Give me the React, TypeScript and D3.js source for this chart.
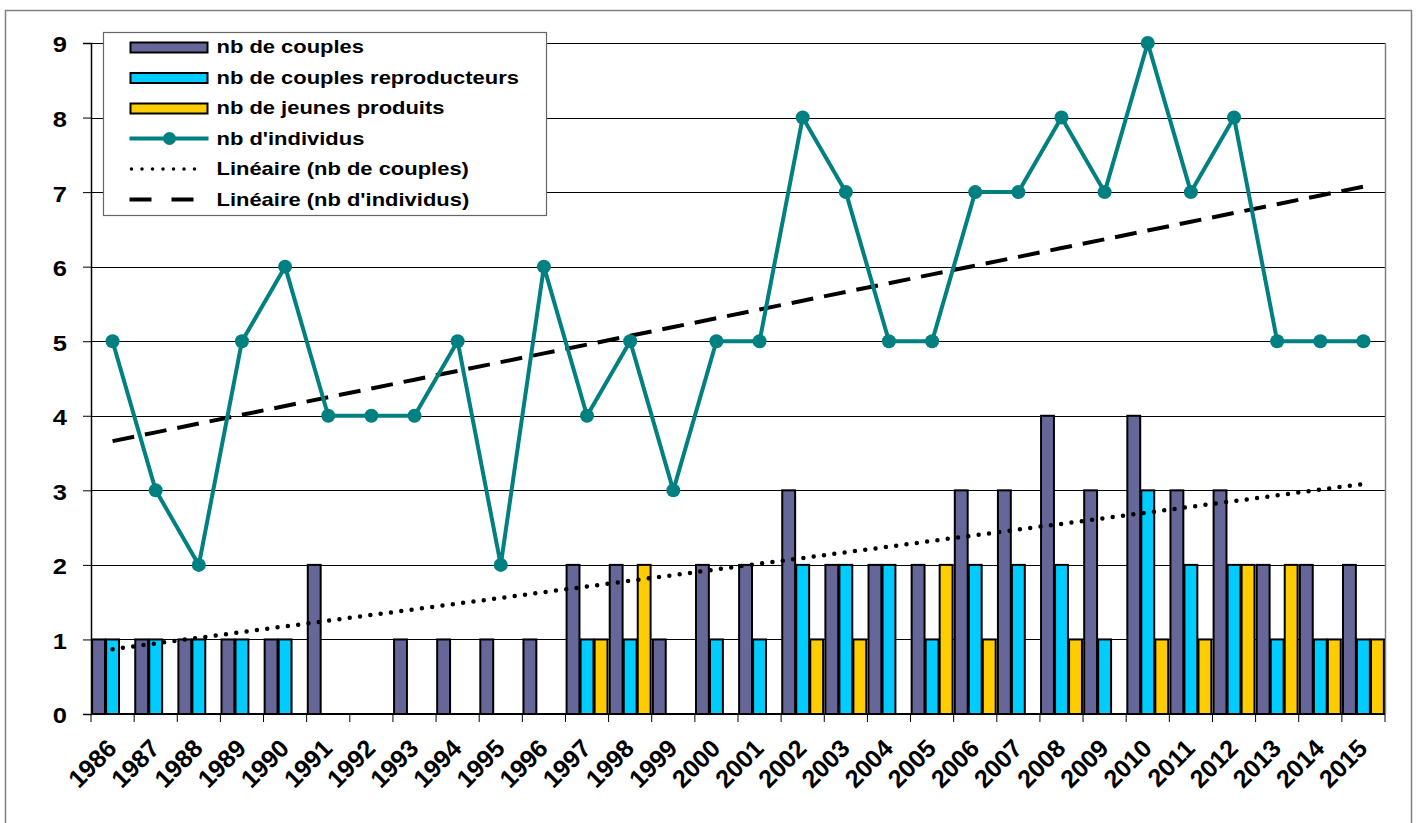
import React, { useEffect, useRef } from "react";
import * as d3 from "d3";

// data (null = empty cell in the sheet)
const years = [
  "1986", "1987", "1988", "1989", "1990", "1991", "1992", "1993", "1994", "1995",
  "1996", "1997", "1998", "1999", "2000", "2001", "2002", "2003", "2004", "2005",
  "2006", "2007", "2008", "2009", "2010", "2011", "2012", "2013", "2014", "2015",
];
const nbCouples: (number | null)[] = [1, 1, 1, 1, 1, 2, null, 1, 1, 1, 1, 2, 2, 1, 2, 2, 3, 2, 2, 2, 3, 3, 4, 3, 4, 3, 3, 2, 2, 2];
const nbReproducteurs = [1, 1, 1, 1, 1, 0, 0, 0, 0, 0, 0, 1, 1, 0, 1, 1, 2, 2, 2, 1, 2, 2, 2, 1, 3, 2, 2, 1, 1, 1];
const nbJeunes = [0, 0, 0, 0, 0, 0, 0, 0, 0, 0, 0, 1, 2, 0, 0, 0, 1, 1, 0, 2, 1, 0, 1, 0, 1, 1, 2, 2, 1, 1];
const nbIndividus = [5, 3, 2, 5, 6, 4, 4, 4, 5, 2, 6, 4, 5, 3, 5, 5, 8, 7, 5, 5, 7, 7, 8, 7, 9, 7, 8, 5, 5, 5];
const yTicks = [0, 1, 2, 3, 4, 5, 6, 7, 8, 9];

const barSeries = [
  { name: "nb de couples", values: nbCouples, color: "#666699" },
  { name: "nb de couples reproducteurs", values: nbReproducteurs, color: "#00CCFF" },
  { name: "nb de jeunes produits", values: nbJeunes, color: "#FFCC00" },
];

const FONT = "'Liberation Sans', Arial, sans-serif";
const STRETCH = 1.16; // the source picture is wider than tall, text looks stretched

// least squares fit, same as Excel "Linéaire" trendline (blank cells skipped)
function linearFit(vals: (number | null)[]) {
  const pts = vals.map((v, i) => [i + 1, v] as [number, number | null]).filter((p) => p[1] != null) as [number, number][];
  const mx = d3.mean(pts, (p) => p[0]) as number;
  const my = d3.mean(pts, (p) => p[1]) as number;
  let num = 0;
  let den = 0;
  pts.forEach(([x, v]) => {
    num += (x - mx) * (v - my);
    den += (x - mx) * (x - mx);
  });
  const slope = num / den;
  return vals.map((_, i) => my + slope * (i + 1 - mx));
}

export default function App() {
  const ref = useRef<SVGSVGElement | null>(null);

  useEffect(() => {
    const svg = d3.select(ref.current);
    svg.selectAll("*").remove();

    const left = 91;
    const right = 1385;
    const top = 43;
    const bottom = 714;

    // outer frame
    svg.append("rect")
      .attr("x", 5.5).attr("y", 10.5)
      .attr("width", 1406).attr("height", 830)
      .attr("fill", "#fff").attr("stroke", "#808080").attr("stroke-width", 1.5);

    const x = d3.scaleBand<string>().domain(years).range([left, right]).paddingInner(0).paddingOuter(0);
    const y = d3.scaleLinear().domain([0, 9]).range([bottom, top]);

    const g = svg.append("g");

    // gridlines
    g.append("g")
      .selectAll("line")
      .data(yTicks.filter((d) => d > 0))
      .enter()
      .append("line")
      .attr("x1", left).attr("x2", right)
      .attr("y1", (d) => Math.round(y(d)) + 0.5)
      .attr("y2", (d) => Math.round(y(d)) + 0.5)
      .attr("stroke", "#000").attr("stroke-width", 1);

    // right edge of plot area
    g.append("line")
      .attr("x1", right + 0.5).attr("x2", right + 0.5)
      .attr("y1", top).attr("y2", bottom)
      .attr("stroke", "#808080").attr("stroke-width", 1.5);

    // bars
    const inner = d3.scaleBand<number>()
      .domain(barSeries.map((_, i) => i))
      .range([0, x.bandwidth()])
      .paddingInner(0.08)
      .paddingOuter(0.08);

    barSeries.forEach((s, si) => {
      g.append("g")
        .selectAll("rect")
        .data(s.values.map((v, i) => ({ v: v ?? 0, year: years[i] })).filter((d) => d.v > 0))
        .enter()
        .append("rect")
        .attr("x", (d) => (x(d.year) as number) + (inner(si) as number))
        .attr("y", (d) => y(d.v))
        .attr("width", inner.bandwidth())
        .attr("height", (d) => y(0) - y(d.v))
        .attr("fill", s.color)
        .attr("stroke", "#000")
        .attr("stroke-width", 2);
    });

    // y axis
    const yAxis = d3.axisLeft(y).tickValues(yTicks).tickSize(8).tickFormat(() => "");
    g.append("g")
      .attr("transform", `translate(${left},0)`)
      .call(yAxis)
      .call((s) => s.select(".domain").attr("stroke", "#000").attr("stroke-width", 1.5))
      .call((s) => s.selectAll("line").attr("stroke", "#000"));
    g.append("g")
      .selectAll("text")
      .data(yTicks)
      .enter()
      .append("text")
      .attr("transform", (d) => `translate(67,${y(d) + 1.5}) scale(${STRETCH},1)`)
      .attr("text-anchor", "end")
      .attr("dy", "0.36em")
      .attr("font-family", FONT).attr("font-size", 22).attr("font-weight", "bold")
      .text((d) => d3.format("d")(d));

    // x axis
    const xAxisG = g.append("g").attr("transform", `translate(0,${bottom})`);
    xAxisG.append("line")
      .attr("x1", left).attr("x2", right)
      .attr("y1", 0).attr("y2", 0)
      .attr("stroke", "#000").attr("stroke-width", 2);
    xAxisG.selectAll(".tick")
      .data(d3.range(years.length + 1))
      .enter()
      .append("line")
      .attr("x1", (i) => left + i * x.step())
      .attr("x2", (i) => left + i * x.step())
      .attr("y1", 0).attr("y2", 8)
      .attr("stroke", "#000").attr("stroke-width", 1);
    xAxisG.selectAll("text")
      .data(years)
      .enter()
      .append("text")
      .attr("transform", (d) => `translate(${(x(d) as number) + x.bandwidth() / 2 + 5.5},${36}) rotate(-45)`)
      .attr("text-anchor", "end")
      .attr("font-family", FONT).attr("font-size", 25).attr("font-weight", "bold")
      .text((d) => d);

    const cx = (i: number) => (x(years[i]) as number) + x.bandwidth() / 2;

    // trendlines
    const trendLine = d3.line<number>().x((_, i) => cx(i)).y((d) => y(d));
    g.append("path")
      .attr("d", trendLine(linearFit(nbCouples)))
      .attr("fill", "none").attr("stroke", "#000").attr("stroke-width", 4.5)
      .attr("stroke-linecap", "round").attr("stroke-dasharray", "0 10.4");
    g.append("path")
      .attr("d", trendLine(linearFit(nbIndividus)))
      .attr("fill", "none").attr("stroke", "#000").attr("stroke-width", 4)
      .attr("stroke-dasharray", "22 11");

    // individuals line
    const indLine = d3.line<number>().x((_, i) => cx(i)).y((d) => y(d));
    g.append("path")
      .attr("d", indLine(nbIndividus))
      .attr("fill", "none").attr("stroke", "#008080").attr("stroke-width", 4)
      .attr("stroke-linejoin", "round");
    g.append("g")
      .selectAll("circle")
      .data(nbIndividus)
      .enter()
      .append("circle")
      .attr("cx", (_, i) => cx(i))
      .attr("cy", (d) => y(d))
      .attr("r", 7)
      .attr("fill", "#008080");

    // legend
    const lg = svg.append("g").attr("transform", "translate(103.5,32.5)");
    lg.append("rect").attr("width", 443).attr("height", 183).attr("fill", "#fff").attr("stroke", "#666").attr("stroke-width", 1.2);
    const legendItems = [
      { name: "nb de couples", kind: "bar", color: "#666699" },
      { name: "nb de couples reproducteurs", kind: "bar", color: "#00CCFF" },
      { name: "nb de jeunes produits", kind: "bar", color: "#FFCC00" },
      { name: "nb d'individus", kind: "line", color: "#008080" },
      { name: "Linéaire (nb de couples)", kind: "dot", color: "#000" },
      { name: "Linéaire (nb d'individus)", kind: "dash", color: "#000" },
    ];
    legendItems.forEach((it, i) => {
      const row = lg.append("g").attr("transform", `translate(0,${14.5 + i * 30.5})`);
      if (it.kind === "bar") {
        row.append("rect").attr("x", 27).attr("y", -4.5).attr("width", 77).attr("height", 10)
          .attr("fill", it.color).attr("stroke", "#000").attr("stroke-width", 2);
      } else if (it.kind === "line") {
        row.append("line").attr("x1", 26).attr("x2", 105).attr("y1", 0).attr("y2", 0)
          .attr("stroke", it.color).attr("stroke-width", 4);
        row.append("circle").attr("cx", 66).attr("cy", 0).attr("r", 6.5).attr("fill", it.color);
      } else if (it.kind === "dot") {
        row.append("line").attr("x1", 28).attr("x2", 92).attr("y1", 0).attr("y2", 0)
          .attr("stroke", "#000").attr("stroke-width", 3.5).attr("stroke-linecap", "round")
          .attr("stroke-dasharray", "0 10.5");
      } else {
        row.append("line").attr("x1", 26).attr("x2", 90).attr("y1", 0).attr("y2", 0)
          .attr("stroke", "#000").attr("stroke-width", 4).attr("stroke-dasharray", "22 20");
      }
      row.append("text")
        .attr("transform", `translate(113,0) scale(1.22,1)`)
        .attr("dy", "0.36em")
        .attr("font-family", FONT).attr("font-size", 18).attr("font-weight", "bold")
        .text(it.name);
    });
  }, []);

  return (
    <div style={{ position: "absolute", left: 0, top: 0 }}>
      <svg ref={ref} width={1421} height={823} style={{ display: "block", background: "#fff" }} />
    </div>
  );
}
